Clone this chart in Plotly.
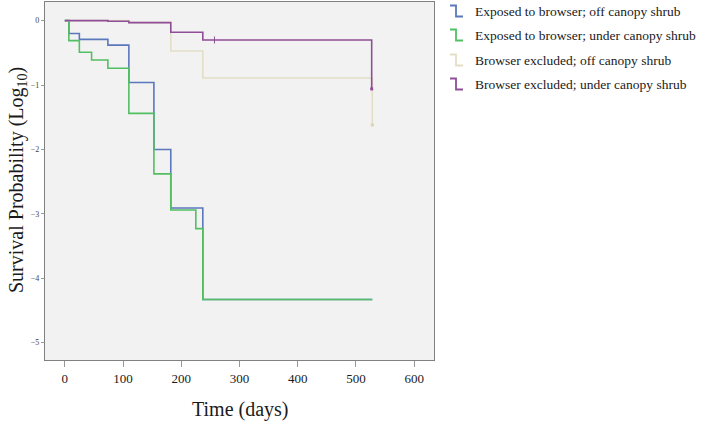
import plotly.graph_objects as go

# ---- data ----
blue_t = [0, 7, 25, 74, 110, 153, 182, 237, 528]
blue_y = [0, -0.20, -0.29, -0.38, -0.96, -2.00, -2.91, -4.33, -4.33]

green_t = [0, 7, 25, 46, 74, 110, 153, 182, 225, 237, 528]
green_y = [0, -0.31, -0.49, -0.61, -0.74, -1.44, -2.38, -2.94, -3.23, -4.33, -4.33]

beige_t = [0, 110, 182, 237, 528, 528]
beige_y = [0, -0.03, -0.47, -0.89, -0.89, -1.62]

purple_t = [0, 74, 110, 182, 237, 527, 527]
purple_y = [0, -0.01, -0.03, -0.18, -0.30, -0.30, -1.06]

purple_censor_t = [257]
purple_censor_y = [-0.30]

series_names = [
    "Exposed to browser; off canopy shrub",
    "Exposed to browser; under canopy shrub",
    "Browser excluded; off canopy shrub",
    "Browser excluded; under canopy shrub",
]
x_ticks = [0, 100, 200, 300, 400, 500, 600]
y_ticks = [0, -1, -2, -3, -4, -5]

colors = ["#5b78bd", "#52bf62", "#e2dfc6", "#8f4e97"]

W, H = 704, 421
L, R, T, B = 45, 270, 2, 61
pw, ph = W - L - R, H - T - B

fig = go.Figure()
data = [(blue_t, blue_y), (green_t, green_y), (beige_t, beige_y), (purple_t, purple_y)]
for (t, y), c, n in zip(data, colors, series_names):
    fig.add_trace(go.Scatter(x=t, y=y, mode="lines", line=dict(shape="hv", color=c, width=1.6),
                             name=n, showlegend=False, hoverinfo="skip"))
fig.add_trace(go.Scatter(x=purple_censor_t, y=purple_censor_y, mode="markers",
                         marker=dict(symbol="line-ns-open", size=5, color=colors[3],
                                     line=dict(width=1, color=colors[3])),
                         showlegend=False, hoverinfo="skip"))
# end points
fig.add_trace(go.Scatter(x=[purple_t[-1], beige_t[-1]], y=[purple_y[-1], beige_y[-1]], mode="markers",
                         marker=dict(symbol="square", size=3, color=[colors[3], "#d8d4b6"]),
                         showlegend=False, hoverinfo="skip"))

serif = "Liberation Serif, Times New Roman, serif"

# legend (step icons + text)
def px2x(px):
    return (px - L) / pw

def py2y(py):
    return 1 - (py - T) / ph

row_y = [11.5, 35.5, 60.5, 84.5]
shapes = []
annotations = []
for ry, c, n in zip(row_y, colors, series_names):
    x0, x1, x2 = px2x(450), px2x(456), px2x(463)
    ytop, ybot = py2y(ry - 6), py2y(ry + 5)
    path = f"M {x0} {ytop} L {x1} {ytop} L {x1} {ybot} L {x2} {ybot}"
    shapes.append(dict(type="path", xref="paper", yref="paper", path=path,
                       line=dict(color=c, width=1.8)))
    annotations.append(dict(xref="paper", yref="paper", x=px2x(473), y=py2y(ry), text=n,
                            showarrow=False, xanchor="left", yanchor="middle",
                            font=dict(family=serif, size=13.5, color="#1a1a1a")))

annotations.append(dict(xref="paper", yref="paper", x=0.5, y=py2y(410), text="Time (days)",
                        showarrow=False, xanchor="center", yanchor="middle",
                        font=dict(family=serif, size=20, color="#1a1a1a")))
annotations.append(dict(xref="paper", yref="paper", x=px2x(17), y=py2y(180),
                        text="Survival Probability (Log<sub>10</sub>)", textangle=-90,
                        showarrow=False, xanchor="center", yanchor="middle",
                        font=dict(family=serif, size=20, color="#1a1a1a")))

fig.update_layout(
    width=W, height=H,
    margin=dict(l=L, r=R, t=T, b=B),
    paper_bgcolor="white", plot_bgcolor="#f2f2f2",
    shapes=shapes, annotations=annotations,
    showlegend=False,
)
fig.update_xaxes(range=[-34, 634], tickvals=x_ticks, ticks="outside", ticklen=6,
                 tickcolor="#999999", showgrid=False, zeroline=False,
                 showline=True, linecolor="#808080", linewidth=1.3, mirror=True,
                 tickfont=dict(family=serif, size=13, color="#1a1a1a"))
fig.update_yaxes(range=[-5.27, 0.29], tickvals=y_ticks, ticks="outside", ticklen=3,
                 tickcolor="#999999", showgrid=False, zeroline=False,
                 showline=True, linecolor="#808080", linewidth=1.3, mirror=True,
                 tickfont=dict(family=serif, size=8, color="#444444"))

fig.write_html("out.html", config={"displayModeBar": False},
               post_script="document.body.style.margin='0px';document.body.style.overflow='hidden';")
